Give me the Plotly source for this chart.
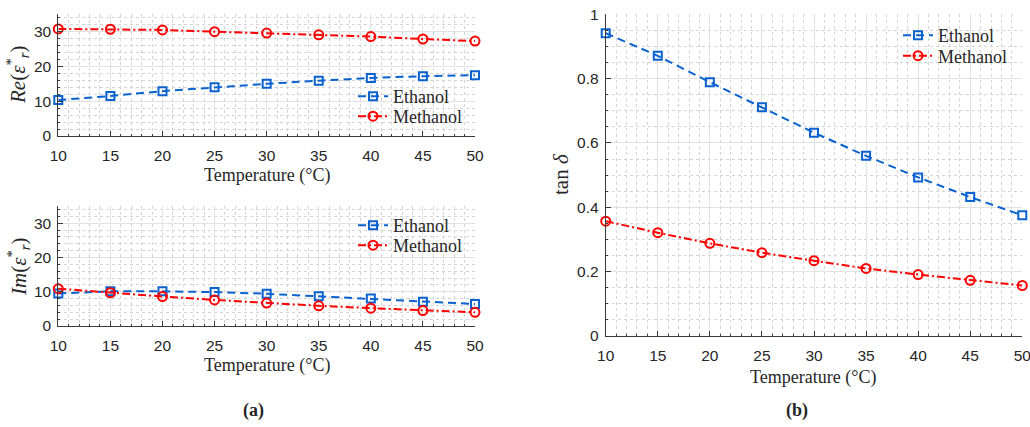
import plotly.graph_objects as go

# Temperature sweep (°C)
temperature = [10, 15, 20, 25, 30, 35, 40, 45, 50]

# Real part of relative permittivity
re_ethanol = [10.35, 11.5, 12.9, 14.0, 15.0, 15.9, 16.7, 17.2, 17.5]
re_methanol = [30.8, 30.7, 30.5, 30.0, 29.6, 29.1, 28.6, 27.9, 27.3]

# Imaginary part of relative permittivity
im_ethanol = [9.5, 10.1, 10.1, 9.9, 9.4, 8.7, 8.0, 7.1, 6.4]
im_methanol = [10.9, 9.7, 8.6, 7.6, 6.7, 5.9, 5.2, 4.5, 4.0]

# Loss tangent
tan_ethanol = [0.941, 0.871, 0.789, 0.711, 0.632, 0.560, 0.493, 0.432, 0.375]
tan_methanol = [0.357, 0.321, 0.288, 0.259, 0.234, 0.210, 0.191, 0.173, 0.157]

x_ticks = [10, 15, 20, 25, 30, 35, 40, 45, 50]

BLUE = "rgb(10,98,208)"
RED = "rgb(255,0,0)"
AXIS = "#3a3a3a"
TEXT = "#262626"
TICKFONT = dict(family="Liberation Sans, Arial, sans-serif", size=15.5, color=TEXT)
SERIF = "Liberation Serif, Times New Roman, serif"

W, H = 1030, 427


def px_x(p):
    return p / W


def px_y(p):
    return 1 - p / H


fig = go.Figure()


def add_pair(xa, ya, eth, meth, leg_eth, leg_meth):
    fig.add_trace(go.Scatter(
        x=temperature, y=eth, name="Ethanol", xaxis=xa, yaxis=ya, legend=leg_eth,
        mode="lines+markers", cliponaxis=False,
        line=dict(color=BLUE, width=2, dash="8px,5px"),
        marker=dict(symbol="square-open", size=8, color=BLUE, line=dict(width=2, color=BLUE)),
    ))
    fig.add_trace(go.Scatter(
        x=temperature, y=meth, name="Methanol", xaxis=xa, yaxis=ya, legend=leg_meth,
        mode="lines+markers", cliponaxis=False,
        line=dict(color=RED, width=2, dash="8px,3px,2px,3px"),
        marker=dict(symbol="circle-open", size=9, color=RED, line=dict(width=2, color=RED)),
    ))


add_pair("x", "y", re_ethanol, re_methanol, "legend", "legend2")
add_pair("x2", "y2", im_ethanol, im_methanol, "legend3", "legend4")
add_pair("x3", "y3", tan_ethanol, tan_methanol, "legend5", "legend6")


def xaxis_style(domain, anchor):
    return dict(
        domain=domain, anchor=anchor, range=[10, 50], tickvals=x_ticks,
        automargin=False, ticklabeloverflow="allow",
        showline=True, linecolor=AXIS, linewidth=1, mirror=False,
        ticks="inside", ticklen=5, tickcolor=AXIS, tickfont=TICKFONT,
        ticklabelstandoff=5,
        showgrid=True, gridcolor="#e2e2e2", gridwidth=1, zeroline=False,
        minor=dict(dtick=1, showgrid=True, gridcolor="#d4d4d4", griddash="dot",
                   gridwidth=1, ticks="inside", ticklen=2, tickcolor=AXIS),
    )


def yaxis_style(domain, anchor, rng, dtick, minor):
    return dict(
        domain=domain, anchor=anchor, range=rng, dtick=dtick,
        automargin=False, ticklabeloverflow="allow",
        showline=True, linecolor=AXIS, linewidth=1,
        ticks="inside", ticklen=5, tickcolor=AXIS, tickfont=TICKFONT,
        ticklabelstandoff=3,
        showgrid=True, gridcolor="#e2e2e2", gridwidth=1, zeroline=False,
        minor=dict(dtick=minor, showgrid=True, gridcolor="#d4d4d4", griddash="dot",
                   gridwidth=1, ticks="inside", ticklen=2, tickcolor=AXIS),
    )


left_x = [px_x(58.3), px_x(475)]
right_x = [px_x(605.7), px_x(1022.3)]

re_title = "<i>Re</i>(<i>ε</i><sup>*</sup><sub><i>r</i></sub>)"
im_title = "<i>Im</i>(<i>ε</i><sup>*</sup><sub><i>r</i></sub>)"


def legend_at(x_px, y_px):
    return dict(
        x=px_x(x_px), y=px_y(y_px),
        bgcolor="rgba(0,0,0,0)", borderwidth=0, itemwidth=30,
        font=dict(family=SERIF, size=18, color=TEXT),
        xanchor="left", yanchor="top",
    )


def paper_text(text, x_px, y_px, size=18, angle=0):
    return dict(text=text, x=px_x(x_px), y=px_y(y_px), xref="paper", yref="paper",
                xanchor="center", yanchor="middle", textangle=angle, showarrow=False,
                font=dict(family=SERIF, size=size, color=TEXT))


fig.update_layout(
    width=W, height=H,
    margin=dict(l=0, r=0, t=0, b=0),
    paper_bgcolor="white", plot_bgcolor="white",
    xaxis=xaxis_style(left_x, "y"),
    yaxis=yaxis_style([px_y(136), px_y(14.3)], "x", [0, 35], 10, 2),
    xaxis2=xaxis_style(left_x, "y2"),
    yaxis2=yaxis_style([px_y(326), px_y(206)], "x2", [0, 35], 10, 2),
    xaxis3=xaxis_style(right_x, "y3"),
    yaxis3=yaxis_style([px_y(336), px_y(14.3)], "x3", [0, 1], 0.2, 0.05),
    legend=legend_at(353, 78),
    legend2=legend_at(353, 98),
    legend3=legend_at(353, 207),
    legend4=legend_at(353, 227),
    legend5=legend_at(898, 17),
    legend6=legend_at(898, 37.5),
    showlegend=True,
    annotations=[
        paper_text("Temperature (°C)", 267, 175),
        paper_text("Temperature (°C)", 267, 365),
        paper_text("Temperature (°C)", 813, 377),
        paper_text(re_title, 18, 75, size=21, angle=-90),
        paper_text(im_title, 18, 267, size=21, angle=-90),
        paper_text("tan <i>δ</i>", 561, 174, size=21, angle=-90),
        paper_text("<b>(a)</b>", 253, 410),
        paper_text("<b>(b)</b>", 797, 410),
    ],
)

fig.write_html("out.html")
